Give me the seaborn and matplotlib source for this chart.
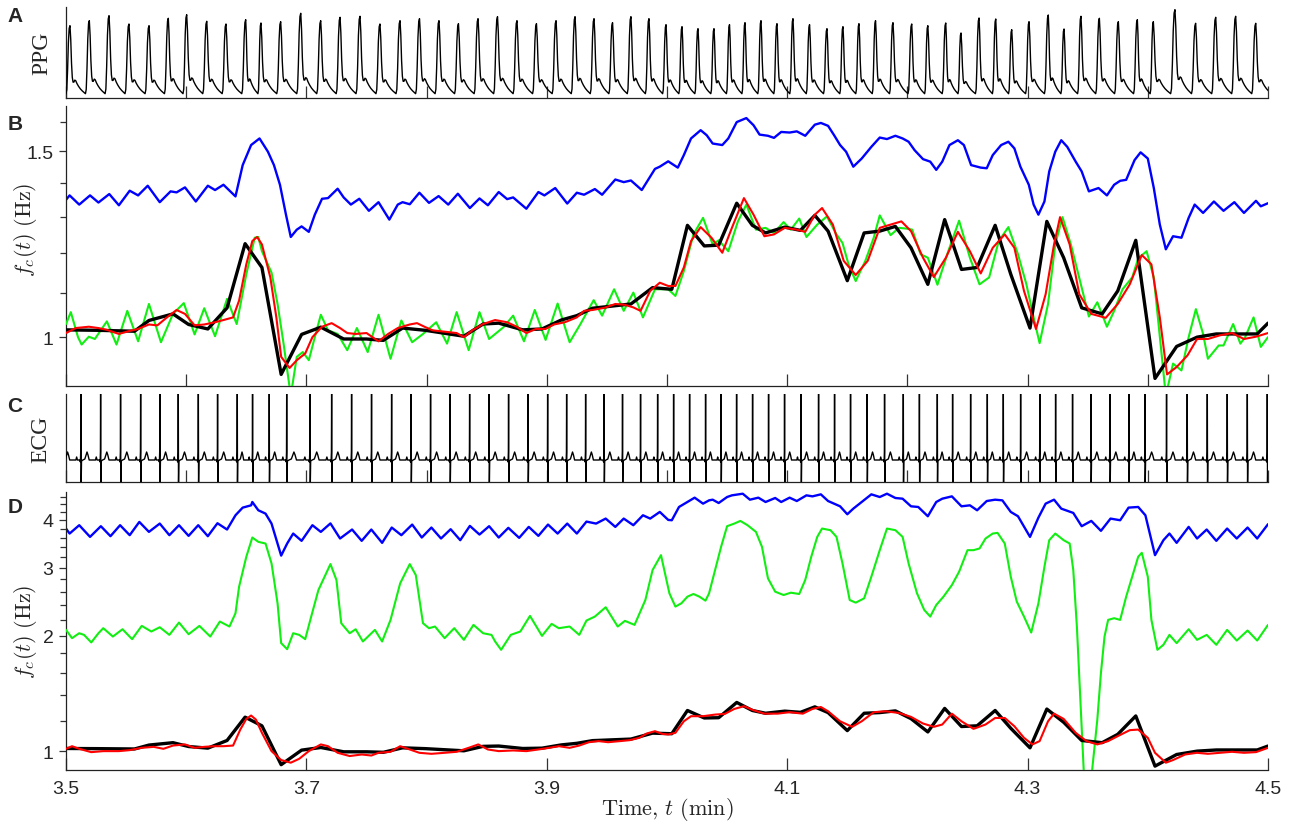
import matplotlib
matplotlib.use("Agg")
import matplotlib.pyplot as plt
import seaborn as sns
from matplotlib.ticker import FixedLocator, FixedFormatter, NullFormatter

# ---------------------------------------------------------------- data
# Panel B (linear-frequency estimates, Hz): (time in min, value)
blue_b = [(3.500,1.349),(3.503,1.362),(3.511,1.335),(3.520,1.362),(3.527,1.341),(3.536,1.366),(3.544,1.333),(3.553,1.376),(3.560,1.362),(3.568,1.391),(3.578,1.342),(3.587,1.374),(3.592,1.371),(3.599,1.386),(3.608,1.344),(3.618,1.391),(3.624,1.378),(3.631,1.394),(3.641,1.359),(3.647,1.455),(3.654,1.520),(3.661,1.542),(3.668,1.498),(3.673,1.455),(3.678,1.394),(3.683,1.306),(3.687,1.244),(3.692,1.264),(3.696,1.273),(3.702,1.258),(3.707,1.306),(3.713,1.352),(3.718,1.354),(3.726,1.382),(3.731,1.356),(3.737,1.335),(3.744,1.352),(3.752,1.317),(3.760,1.342),(3.769,1.292),(3.776,1.335),(3.780,1.342),(3.786,1.336),(3.794,1.370),(3.802,1.340),(3.810,1.360),(3.818,1.335),(3.826,1.367),(3.836,1.325),(3.844,1.353),(3.851,1.333),(3.860,1.372),(3.867,1.351),(3.872,1.356),(3.883,1.323),(3.893,1.372),(3.898,1.362),(3.907,1.384),(3.917,1.338),(3.925,1.370),(3.931,1.364),(3.940,1.381),(3.946,1.364),(3.957,1.410),(3.964,1.402),(3.970,1.407),(3.979,1.378),(3.990,1.443),(3.994,1.450),(4.001,1.467),
          (4.009,1.447),(4.014,1.487),(4.020,1.542),(4.028,1.570),(4.033,1.553),(4.038,1.525),(4.046,1.520),(4.051,1.542),(4.058,1.598),(4.066,1.612),(4.072,1.587),(4.077,1.555),(4.084,1.551),(4.089,1.544),(4.095,1.564),(4.102,1.562),(4.108,1.566),(4.115,1.551),(4.123,1.589),(4.128,1.595),(4.134,1.585),(4.139,1.553),(4.144,1.520),(4.149,1.498),(4.155,1.450),(4.162,1.476),(4.170,1.514),(4.177,1.545),(4.183,1.540),(4.190,1.551),(4.196,1.542),(4.201,1.531),(4.206,1.503),(4.213,1.474),(4.219,1.466),(4.224,1.440),(4.229,1.466),(4.235,1.520),(4.242,1.536),(4.247,1.520),(4.253,1.455),(4.261,1.447),(4.266,1.445),(4.271,1.487),(4.278,1.520),(4.284,1.531),(4.289,1.509),(4.294,1.450),(4.301,1.394),(4.305,1.335),(4.309,1.306),(4.314,1.344),(4.318,1.435),(4.323,1.498),(4.328,1.536),(4.333,1.514),(4.340,1.466),(4.345,1.435),(4.351,1.374),(4.359,1.384),(4.366,1.362),(4.372,1.394),(4.377,1.406),(4.382,1.409),(4.389,1.471),(4.394,1.496),(4.400,1.476),(4.405,1.384),(4.410,1.278),(4.415,1.211),(4.421,1.246),(4.428,1.242),(4.434,1.297),(4.439,1.335),(4.446,1.311),(4.455,1.344),(4.463,1.317),(4.472,1.342),(4.480,1.311),(4.490,1.346),(4.494,1.330),(4.500,1.339)]

green_b = [(3.500,1.029),(3.504,1.056),(3.510,1.000),(3.513,0.984),(3.519,1.001),(3.524,0.996),(3.534,1.035),(3.542,0.984),(3.551,1.059),(3.560,0.991),(3.569,1.075),(3.579,0.989),(3.589,1.052),(3.598,1.077),(3.607,1.006),(3.615,1.065),(3.624,1.002),(3.634,1.087),(3.642,1.029),(3.650,1.147),(3.657,1.242),(3.660,1.244),(3.663,1.206),(3.671,1.151),(3.676,1.075),(3.681,0.986),(3.687,0.880),(3.692,0.958),(3.697,0.968),(3.702,0.951),(3.707,1.000),(3.712,1.050),(3.718,1.015),(3.726,1.007),(3.734,0.972),(3.742,1.020),(3.751,0.968),(3.760,1.050),(3.770,0.954),(3.779,1.037),(3.788,0.989),(3.797,1.007),(3.808,1.033),(3.817,0.986),(3.825,1.056),(3.835,0.972),(3.844,1.056),(3.852,0.996),(3.864,1.022),(3.872,1.048),(3.881,0.991),(3.890,1.061),(3.899,0.994),(3.909,1.076),(3.919,0.989),(3.928,1.029),(3.939,1.084),(3.946,1.048),(3.956,1.110),(3.964,1.059),(3.972,1.102),(3.980,1.044),(3.990,1.110),
           (4.001,1.110),(4.007,1.094),(4.014,1.155),(4.022,1.251),(4.030,1.297),(4.038,1.224),(4.043,1.235),(4.051,1.206),(4.059,1.287),(4.066,1.335),(4.074,1.264),(4.082,1.269),(4.089,1.255),(4.097,1.285),(4.103,1.264),(4.110,1.295),(4.116,1.244),(4.125,1.278),(4.133,1.301),(4.141,1.251),(4.146,1.228),(4.151,1.172),(4.157,1.130),(4.165,1.181),(4.172,1.242),(4.177,1.304),(4.186,1.249),(4.193,1.269),(4.199,1.267),(4.204,1.264),(4.211,1.198),(4.217,1.189),(4.225,1.121),(4.234,1.206),(4.243,1.289),(4.252,1.189),(4.260,1.122),(4.268,1.139),(4.276,1.233),(4.284,1.271),(4.292,1.198),(4.299,1.122),(4.305,1.044),(4.310,0.987),(4.317,1.075),(4.323,1.224),(4.329,1.299),(4.336,1.224),(4.345,1.114),(4.351,1.046),(4.358,1.079),(4.366,1.023),(4.372,1.059),(4.379,1.110),(4.387,1.139),(4.392,1.187),(4.399,1.206),(4.405,1.139),(4.410,1.000),(4.415,0.880),(4.421,0.944),(4.428,0.930),(4.434,1.000),(4.440,1.063),(4.446,1.007),(4.450,0.954),(4.459,0.982),(4.463,0.982),(4.471,1.029),(4.477,0.986),(4.481,1.000),(4.488,1.044),(4.494,0.979),(4.500,1.000)]

# instantaneous heart rate (Hz), shared by panels B and D
heart_rate = [(3.500,1.016),(3.527,1.015),(3.557,1.013),(3.569,1.037),(3.589,1.052),(3.602,1.028),(3.618,1.018),(3.634,1.066),(3.649,1.226),(3.663,1.164),(3.679,0.922),(3.696,1.006),(3.712,1.022),(3.731,0.996),(3.750,0.996),(3.764,0.993),(3.780,1.020),(3.799,1.015),(3.831,1.002),(3.847,1.029),(3.860,1.031),(3.880,1.016),(3.896,1.018),(3.912,1.038),(3.925,1.048),(3.938,1.065),(3.970,1.075),(3.988,1.114),(4.004,1.110),(4.017,1.276),(4.031,1.220),(4.043,1.222),(4.058,1.339),(4.071,1.276),(4.082,1.255),(4.098,1.271),(4.111,1.262),(4.123,1.304),(4.134,1.260),(4.150,1.131),(4.164,1.255),(4.177,1.260),(4.190,1.273),(4.203,1.215),(4.217,1.122),(4.231,1.292),(4.245,1.159),(4.258,1.164),(4.273,1.276),(4.286,1.147),(4.302,1.020),(4.316,1.287),(4.330,1.189),(4.345,1.066),(4.362,1.052),(4.375,1.106),(4.390,1.235),(4.406,0.914),(4.424,0.980),(4.441,1.000),(4.457,1.007),(4.473,1.007),(4.491,1.007),(4.500,1.031)]

red_b = [(3.500,1.009),(3.508,1.020),(3.519,1.023),(3.527,1.020),(3.534,1.016),(3.544,1.007),(3.552,1.013),(3.560,1.018),(3.569,1.028),(3.576,1.026),(3.584,1.044),(3.592,1.061),(3.599,1.052),(3.607,1.026),(3.615,1.028),(3.624,1.033),(3.631,1.038),(3.639,1.044),(3.644,1.083),(3.650,1.172),(3.655,1.233),(3.659,1.244),(3.663,1.224),(3.670,1.139),(3.675,1.044),(3.679,0.958),(3.686,0.935),(3.692,0.951),(3.699,0.965),(3.705,1.000),(3.713,1.023),(3.721,1.031),(3.728,1.020),(3.734,1.009),(3.741,1.007),(3.750,1.009),(3.760,0.991),(3.768,1.007),(3.776,1.020),(3.786,1.028),(3.792,1.031),(3.799,1.022),(3.805,1.015),(3.815,1.012),(3.825,1.009),(3.831,1.000),(3.838,1.015),(3.847,1.029),(3.857,1.038),(3.867,1.033),(3.875,1.023),(3.883,1.009),(3.891,1.018),(3.899,1.018),(3.906,1.028),(3.915,1.033),(3.925,1.044),(3.931,1.059),(3.938,1.061),(3.948,1.066),(3.957,1.075),(3.965,1.073),(3.972,1.067),(3.978,1.059),(3.986,1.106),(3.994,1.126),(4.001,1.118),
         (4.007,1.118),(4.014,1.164),(4.020,1.233),(4.028,1.271),(4.037,1.242),(4.046,1.202),(4.054,1.269),(4.064,1.354),(4.072,1.306),(4.081,1.246),(4.089,1.251),(4.098,1.269),(4.108,1.264),(4.115,1.258),(4.123,1.306),(4.129,1.325),(4.138,1.278),(4.147,1.181),(4.157,1.145),(4.167,1.181),(4.177,1.269),(4.186,1.278),(4.195,1.287),(4.203,1.260),(4.213,1.189),(4.222,1.140),(4.232,1.189),(4.242,1.258),(4.252,1.206),(4.261,1.149),(4.271,1.215),(4.281,1.251),(4.289,1.215),(4.297,1.106),(4.307,1.018),(4.315,1.098),(4.322,1.224),(4.327,1.299),(4.335,1.224),(4.343,1.098),(4.353,1.052),(4.365,1.043),(4.375,1.075),(4.385,1.122),(4.395,1.196),(4.403,1.172),(4.410,1.044),(4.416,0.922),(4.424,0.937),(4.433,0.961),(4.441,0.996),(4.450,0.996),(4.460,1.004),(4.470,1.009),(4.480,0.996),(4.490,1.001),(4.500,1.009)]

# Panel D (log-frequency estimates, Hz)
blue_d = [(3.500,3.799),(3.503,3.687),(3.511,3.876),(3.520,3.614),(3.529,3.853),(3.537,3.629),(3.545,3.876),(3.553,3.651),(3.561,3.953),(3.569,3.724),(3.578,3.914),(3.586,3.651),(3.594,3.876),(3.602,3.636),(3.610,3.876),(3.618,3.629),(3.626,3.922),(3.634,3.777),(3.641,4.114),(3.647,4.307),(3.654,4.367),(3.655,4.455),(3.660,4.239),(3.666,4.155),(3.671,3.914),(3.676,3.473),(3.679,3.230),(3.684,3.473),(3.689,3.687),(3.696,3.529),(3.705,3.876),(3.712,3.724),(3.720,3.918),(3.728,3.579),(3.738,3.777),(3.746,3.529),(3.754,3.777),(3.763,3.487),(3.771,3.822),(3.779,3.651),(3.788,3.891),(3.796,3.600),(3.804,3.822),(3.812,3.579),(3.820,3.784),(3.828,3.543),(3.836,3.860),(3.844,3.665),(3.852,3.853),(3.860,3.600),(3.868,3.815),(3.877,3.593),(3.885,3.837),(3.893,3.636),(3.901,3.891),(3.909,3.687),(3.917,3.914),(3.925,3.687),(3.933,3.961),(3.941,3.914),(3.949,4.033),(3.957,3.837),(3.964,4.033),(3.972,3.876),(3.980,4.114),(3.986,4.033),(3.994,4.197),(4.001,4.001),
          (4.004,3.993),(4.010,4.324),(4.017,4.455),(4.023,4.572),(4.030,4.411),(4.035,4.499),(4.038,4.517),(4.043,4.428),(4.050,4.590),(4.054,4.636),(4.063,4.682),(4.069,4.517),(4.076,4.572),(4.082,4.455),(4.090,4.563),(4.095,4.455),(4.102,4.572),(4.108,4.481),(4.116,4.636),(4.121,4.608),(4.128,4.664),(4.134,4.481),(4.144,4.341),(4.150,4.139),(4.155,4.281),(4.162,4.455),(4.170,4.664),(4.177,4.590),(4.183,4.682),(4.190,4.563),(4.196,4.544),(4.203,4.341),(4.209,4.324),(4.217,4.090),(4.224,4.455),(4.229,4.544),(4.237,4.608),(4.245,4.341),(4.252,4.367),(4.258,4.239),(4.266,4.481),(4.273,4.517),(4.279,4.499),(4.286,4.197),(4.292,4.090),(4.302,3.614),(4.309,4.057),(4.315,4.411),(4.322,4.517),(4.328,4.281),(4.338,4.172),(4.345,3.853),(4.353,3.977),(4.361,3.747),(4.369,4.033),(4.377,3.993),(4.384,4.307),(4.392,4.324),(4.398,4.114),(4.406,3.239),(4.413,3.543),(4.418,3.687),(4.424,3.487),(4.434,3.837),(4.441,3.579),(4.449,3.777),(4.457,3.529),(4.466,3.799),(4.474,3.579),(4.483,3.822),(4.491,3.579),(4.500,3.899)]

green_d = [(3.500,2.069),(3.505,1.969),(3.511,2.028),(3.515,2.008),(3.521,1.919),(3.527,2.028),(3.531,2.090),(3.539,1.988),(3.547,2.077),(3.555,1.957),(3.563,2.119),(3.571,2.049),(3.578,2.102),(3.586,2.008),(3.594,2.162),(3.602,2.016),(3.611,2.119),(3.620,1.988),(3.628,2.175),(3.636,2.111),(3.641,2.286),(3.644,2.681),(3.650,3.207),(3.655,3.600),(3.660,3.508),(3.666,3.473),(3.671,3.082),(3.676,2.427),(3.679,1.911),(3.684,1.843),(3.689,2.028),(3.694,2.008),(3.699,1.957),(3.704,2.241),(3.710,2.628),(3.720,3.070),(3.725,2.790),(3.729,2.153),(3.736,2.028),(3.741,2.077),(3.747,1.930),(3.757,2.069),(3.763,1.930),(3.770,2.197),(3.778,2.735),(3.786,3.070),(3.791,2.875),(3.797,2.153),(3.802,2.090),(3.807,2.111),(3.815,1.969),(3.823,2.090),(3.831,1.949),(3.839,2.132),(3.847,2.028),(3.854,2.008),(3.857,1.930),(3.862,1.836),(3.870,2.008),(3.878,2.049),(3.886,2.250),(3.896,1.996),(3.904,2.145),(3.910,2.090),(3.919,2.111),(3.927,2.008),(3.933,2.188),(3.940,2.241),(3.949,2.370),(3.959,2.111),(3.965,2.184),(3.973,2.132),(3.982,2.475),(3.988,2.962),(3.995,3.239),
           (4.002,2.576),(4.007,2.379),(4.012,2.427),(4.017,2.525),(4.022,2.566),(4.027,2.525),(4.032,2.465),(4.035,2.576),(4.040,2.962),(4.045,3.405),(4.050,3.853),(4.056,3.914),(4.061,3.977),(4.067,3.876),(4.074,3.724),(4.079,3.405),(4.084,2.818),(4.090,2.602),(4.097,2.550),(4.103,2.586),(4.110,2.566),(4.115,2.790),(4.120,3.207),(4.125,3.614),(4.129,3.799),(4.136,3.762),(4.141,3.614),(4.146,3.082),(4.152,2.475),(4.157,2.436),(4.164,2.500),(4.170,2.846),(4.177,3.337),(4.183,3.799),(4.190,3.762),(4.196,3.614),(4.201,3.082),(4.208,2.576),(4.214,2.332),(4.219,2.241),(4.224,2.402),(4.230,2.525),(4.237,2.707),(4.243,2.932),(4.250,3.337),(4.255,3.337),(4.260,3.371),(4.265,3.579),(4.271,3.687),(4.275,3.702),(4.281,3.473),(4.286,2.846),(4.291,2.451),(4.297,2.241),(4.303,2.036),(4.309,2.427),(4.314,3.021),(4.318,3.543),(4.323,3.687),(4.330,3.543),(4.335,3.473),(4.338,2.962),(4.341,2.111),(4.347,0.850),(4.350,0.600),(4.353,0.850),(4.358,1.208),(4.361,1.597),(4.364,1.988),(4.367,2.197),(4.372,2.219),(4.377,2.197),(4.382,2.525),(4.387,2.846),(4.392,3.207),(4.395,3.285),(4.400,2.846),(4.403,2.197),(4.408,1.836),(4.413,1.892),(4.418,2.008),(4.424,1.911),(4.434,2.077),(4.441,1.949),(4.449,2.008),(4.457,1.892),(4.466,2.069),(4.474,1.941),(4.483,2.061),(4.491,1.941),(4.500,2.132)]

red_d = [(3.500,1.014),(3.505,1.030),(3.511,1.014),(3.521,0.994),(3.531,1.000),(3.544,1.000),(3.553,1.006),(3.563,1.020),(3.573,1.026),(3.581,1.014),(3.589,1.034),(3.599,1.041),(3.607,1.020),(3.615,1.026),(3.623,1.030),(3.631,1.030),(3.639,1.034),(3.645,1.138),(3.650,1.213),(3.654,1.238),(3.658,1.208),(3.663,1.116),(3.671,1.000),(3.679,0.948),(3.687,0.933),(3.694,0.955),(3.702,1.000),(3.712,1.041),(3.718,1.030),(3.726,0.990),(3.736,0.971),(3.746,0.980),(3.754,0.974),(3.760,0.990),(3.770,0.996),(3.778,1.030),(3.786,1.010),(3.794,0.990),(3.804,0.984),(3.815,0.990),(3.825,0.996),(3.835,1.020),(3.843,1.041),(3.851,1.010),(3.860,1.000),(3.872,1.004),(3.883,1.000),(3.893,1.010),(3.902,1.020),(3.910,1.030),(3.919,1.020),(3.927,1.034),(3.935,1.055),(3.943,1.062),(3.951,1.055),(3.961,1.062),(3.969,1.068),(3.977,1.083),(3.983,1.111),(3.990,1.127),(3.996,1.109),(4.001,1.105),
         (4.007,1.116),(4.014,1.196),(4.020,1.233),(4.030,1.233),(4.040,1.245),(4.048,1.250),(4.056,1.288),(4.064,1.309),(4.072,1.278),(4.081,1.252),(4.092,1.252),(4.102,1.263),(4.113,1.252),(4.121,1.288),(4.128,1.303),(4.134,1.270),(4.144,1.196),(4.154,1.157),(4.162,1.196),(4.172,1.263),(4.182,1.270),(4.193,1.257),(4.203,1.228),(4.213,1.180),(4.222,1.157),(4.229,1.173),(4.237,1.252),(4.245,1.196),(4.255,1.143),(4.265,1.173),(4.273,1.220),(4.281,1.220),(4.289,1.161),(4.297,1.083),(4.304,1.041),(4.310,1.062),(4.317,1.196),(4.322,1.252),(4.330,1.213),(4.340,1.116),(4.349,1.062),(4.358,1.041),(4.367,1.062),(4.375,1.094),(4.385,1.134),(4.392,1.138),(4.400,1.083),(4.406,0.990),(4.415,0.933),(4.421,0.948),(4.431,0.980),(4.441,0.990),(4.450,0.984),(4.460,0.990),(4.470,0.996),(4.480,0.990),(4.490,0.994),(4.500,1.020)]

# Panel A: PPG systolic peaks (time in min, height in trace units)
ppg_peaks = [(3.4868,72.0),(3.5033,72.0),(3.5194,77.0),(3.5358,82.0),(3.5524,73.7),(3.5691,72.0),(3.5851,79.4),(3.6004,83.0),(3.6171,76.4),(3.6331,73.7),(3.6495,78.0),(3.6622,74.7),(3.6786,76.0),(3.6953,84.4),(3.7119,77.0),(3.7280,80.4),(3.7446,81.4),(3.7612,73.7),
             (3.7779,77.0),(3.7941,79.0),(3.8103,77.0),(3.8265,74.0),(3.8428,79.0),(3.8590,81.0),(3.8752,77.0),(3.8914,74.0),(3.9077,77.0),(3.9235,81.0),(3.9393,79.0),(3.9547,75.0),(3.9700,81.0),(3.9850,79.0),(3.9992,73.0),(4.0125,71.0),(4.0258,69.0),(4.0391,69.0),(4.0520,73.0),(4.0649,75.0),(4.0782,77.0),(4.0915,74.0),(4.1048,79.0),(4.1186,73.0),(4.1331,69.0),(4.1464,71.0),(4.1597,74.0),(4.1735,77.0),(4.1880,75.0),
             (4.2036,73.7),(4.2170,72.0),(4.2319,74.7),(4.2446,64.7),(4.2596,79.7),(4.2735,78.7),(4.2868,68.0),(4.3012,76.0),(4.3172,82.7),(4.3303,68.7),(4.3444,81.4),(4.3597,79.4),(4.3755,76.0),(4.3913,78.0),(4.4046,76.0),(4.4226,88.0),(4.4398,74.4),(4.4565,80.4),(4.4731,81.4),(4.4898,74.4),(4.5064,76.0)]
# one PPG cycle, peak to next peak: phase and relative level
ppg_phase = [0.00, 0.04, 0.08, 0.12, 0.16, 0.20, 0.25, 0.30, 0.36, 0.44, 0.54, 0.64, 0.74, 0.80, 0.84, 0.88, 0.92, 0.96, 1.00]
ppg_level = [1.00, 0.80, 0.45, 0.24, 0.17, 0.17, 0.20, 0.19, 0.15, 0.11, 0.07, 0.04, 0.015, 0.00, 0.06, 0.35, 0.75, 0.96, 1.00]
ppg_foot_phase = 0.80
ppg_foot = 4.0

# Panel C: ECG R peaks (time in min, height in trace units)
ecg_beats = [(3.4963,90),(3.5124,90),(3.5288,90),(3.5454,90),(3.5621,90),(3.5781,90),(3.5934,90),(3.6101,90),(3.6261,90),(3.6425,90),(3.6552,90),(3.6691,90),(3.6836,90),(3.7030,90),(3.7210,90),(3.7376,90),(3.7542,90),(3.7709,90),(3.7871,90),(3.8033,90),(3.8195,90),(3.8358,90),(3.8520,90),(3.8682,90),(3.8844,90),(3.9007,90),(3.9165,90),(3.9323,90),(3.9477,90),(3.9630,90),(3.9780,90),(3.9922,90),(4.0055,90),(4.0188,90),(4.0321,90),(4.0450,90),(4.0579,90),(4.0712,90),(4.0845,90),(4.0978,90),(4.1116,90),(4.1261,90),(4.1394,90),(4.1527,90),(4.1665,90),(4.1810,90),(4.1966,90),(4.2100,90),(4.2249,90),(4.2376,90),(4.2526,90),(4.2665,90),(4.2798,90),(4.2942,90),(4.3102,90),(4.3233,90),(4.3374,90),(4.3527,90),(4.3685,90),(4.3843,90),(4.3976,90),(4.4156,90),(4.4328,90),(4.4495,90),(4.4661,90),(4.4828,90),(4.4994,90),(4.5160,90)]
# one ECG cycle, R to next R: phase and level (first/last replaced by R heights)
ecg_phase = [0.000, 0.012, 0.030, 0.10, 0.20, 0.26, 0.31, 0.36, 0.42, 0.60, 0.74, 0.78, 0.82, 0.93, 0.975, 0.99, 1.000]
ecg_level = [0.0, -4.0, 21.0, 22.0, 23.0, 27.0, 30.0, 27.0, 22.0, 22.0, 22.0, 25.0, 22.0, 22.0, 20.0, 30.0, 0.0]

time_ticks = [3.5, 3.6, 3.7, 3.8, 3.9, 4.0, 4.1, 4.2, 4.3, 4.4, 4.5]
time_labels = [3.5, 3.7, 3.9, 4.1, 4.3, 4.5]
b_major = [1.0, 1.5]
b_minor = [1.1, 1.2, 1.3, 1.4, 1.6]
d_major = [1.0, 2.0, 3.0, 4.0]
d_minor = [1.2, 1.4, 1.6, 1.8, 2.2, 2.4, 2.6, 2.8, 3.2, 3.4, 3.6, 3.8, 4.2, 4.4, 4.6]

# ---------------------------------------------------------------- helpers
def ppg_trace(peaks):
    ts, vs = [], []
    for (t0, h0), (t1, h1) in zip(peaks[:-1], peaks[1:]):
        for ph, lv in zip(ppg_phase[:-1], ppg_level[:-1]):
            h = h0 if ph < ppg_foot_phase else h1
            ts.append(t0 + ph * (t1 - t0))
            vs.append(ppg_foot + (h - ppg_foot) * lv)
    ts.append(peaks[-1][0]); vs.append(peaks[-1][1])
    return ts, vs

def ecg_trace(beats):
    ts, vs = [], []
    for (t0, r0), (t1, r1) in zip(beats[:-1], beats[1:]):
        for i, (ph, lv) in enumerate(zip(ecg_phase[:-1], ecg_level[:-1])):
            ts.append(t0 + ph * (t1 - t0))
            vs.append(r0 if i == 0 else lv)
    ts.append(beats[-1][0]); vs.append(beats[-1][1])
    return ts, vs

def draw(ax, t, v, color, lw, z):
    sns.lineplot(x=list(t), y=list(v), ax=ax, color=color, linewidth=lw,
                 sort=False, estimator=None, zorder=z,
                 solid_joinstyle="round", solid_capstyle="round")

def draw_pts(ax, pts, color, lw, z):
    t, v = zip(*pts)
    draw(ax, t, v, color, lw, z)

# ---------------------------------------------------------------- figure
sns.set_style("white")
plt.rcParams["font.family"] = ["Liberation Sans", "DejaVu Sans"]
plt.rcParams["mathtext.fontset"] = "cm"

W, H = 1289, 829
fig = plt.figure(figsize=(W / 100, H / 100), dpi=100)

def box(top, bottom):
    return [66 / W, 1 - bottom / H, 1202 / W, (bottom - top) / H]

axA = fig.add_axes(box(8, 98.7))
axB = fig.add_axes(box(107, 387))
axC = fig.add_axes(box(395, 483))
axD = fig.add_axes(box(493, 771))

BLUE, GREEN, RED, BLACK = "#0000ff", "#11ee11", "#ff0000", "#000000"

t, v = ppg_trace(ppg_peaks)
draw(axA, t, v, BLACK, 1.0, 3)

draw_pts(axB, blue_b, BLUE, 1.7, 2)
draw_pts(axB, green_b, GREEN, 1.5, 3)
draw_pts(axB, heart_rate, BLACK, 2.4, 4)
draw_pts(axB, red_b, RED, 1.5, 5)

t, v = ecg_trace(ecg_beats)
draw(axC, t, v, BLACK, 1.0, 3)

draw_pts(axD, blue_d, BLUE, 1.7, 2)
draw_pts(axD, green_d, GREEN, 1.5, 3)
draw_pts(axD, heart_rate, BLACK, 2.4, 4)
draw_pts(axD, red_d, RED, 1.5, 5)

for ax in (axA, axB, axC, axD):
    ax.set_xlim(3.5, 4.5)
    for side in ("top", "right"):
        ax.spines[side].set_visible(False)
    for side in ("left", "bottom"):
        ax.spines[side].set_color("#222222")
        ax.spines[side].set_linewidth(0.9)
    ax.set_xlabel("")
    ax.set_ylabel("")
    ax.patch.set_alpha(0)

for ax in (axA, axB, axC):
    ax.xaxis.set_major_locator(FixedLocator(time_ticks))
    ax.tick_params(axis="x", bottom=True, direction="in", length=9, width=0.9,
                   color="#333333", labelbottom=False)

axD.xaxis.set_major_locator(FixedLocator(time_labels))
axD.xaxis.set_major_formatter(FixedFormatter([f"{x:.1f}" for x in time_labels]))
axD.tick_params(axis="x", bottom=True, direction="in", length=9, width=0.9,
                color="#333333", labelsize=14, pad=7)

axA.set_ylim(0, 90.7)
axA.set_yticks([])
axC.set_ylim(0, 88)
axC.set_yticks([])

axB.set_yscale("log")
axB.set_ylim(0.899, 1.655)
axB.yaxis.set_major_locator(FixedLocator(b_major))
axB.yaxis.set_major_formatter(FixedFormatter(["1", "1.5"]))
axB.yaxis.set_minor_locator(FixedLocator(b_minor))
axB.yaxis.set_minor_formatter(NullFormatter())

axD.set_yscale("log")
axD.set_ylim(0.893, 4.73)
axD.yaxis.set_major_locator(FixedLocator(d_major))
axD.yaxis.set_major_formatter(FixedFormatter(["1", "2", "3", "4"]))
axD.yaxis.set_minor_locator(FixedLocator(d_minor))
axD.yaxis.set_minor_formatter(NullFormatter())

for ax in (axB, axD):
    ax.tick_params(axis="y", which="major", left=True, direction="out", length=5,
                   width=0.9, color="#333333", labelsize=14, pad=4)
    ax.tick_params(axis="y", which="minor", left=True, direction="out", length=4,
                   width=0.9, color="#333333")

serif = ["Liberation Serif", "DejaVu Serif"]
axA.set_ylabel("PPG", fontsize=17, family=serif)
axA.yaxis.set_label_coords(-0.011, 0.5)
axC.set_ylabel("ECG", fontsize=17, family=serif)
axC.yaxis.set_label_coords(-0.012, 0.5)
axB.set_ylabel(r"$f_c(t)\ (\mathrm{Hz})$", fontsize=16)
axB.yaxis.set_label_coords(-0.0225, 0.56)
axD.set_ylabel(r"$f_c(t)\ (\mathrm{Hz})$", fontsize=16)
axD.yaxis.set_label_coords(-0.0225, 0.5)

fig.text(667 / W, 1 - 810 / H, r"$\mathrm{Time},\,t\ \mathrm{(min)}$",
         ha="center", va="center", fontsize=16)

for letter, y in (("A", 17), ("B", 124), ("C", 406), ("D", 508)):
    fig.text(15 / W, 1 - y / H, letter, ha="center", va="center",
             fontsize=15, fontweight="bold")

fig.savefig("out.png", dpi=100)
